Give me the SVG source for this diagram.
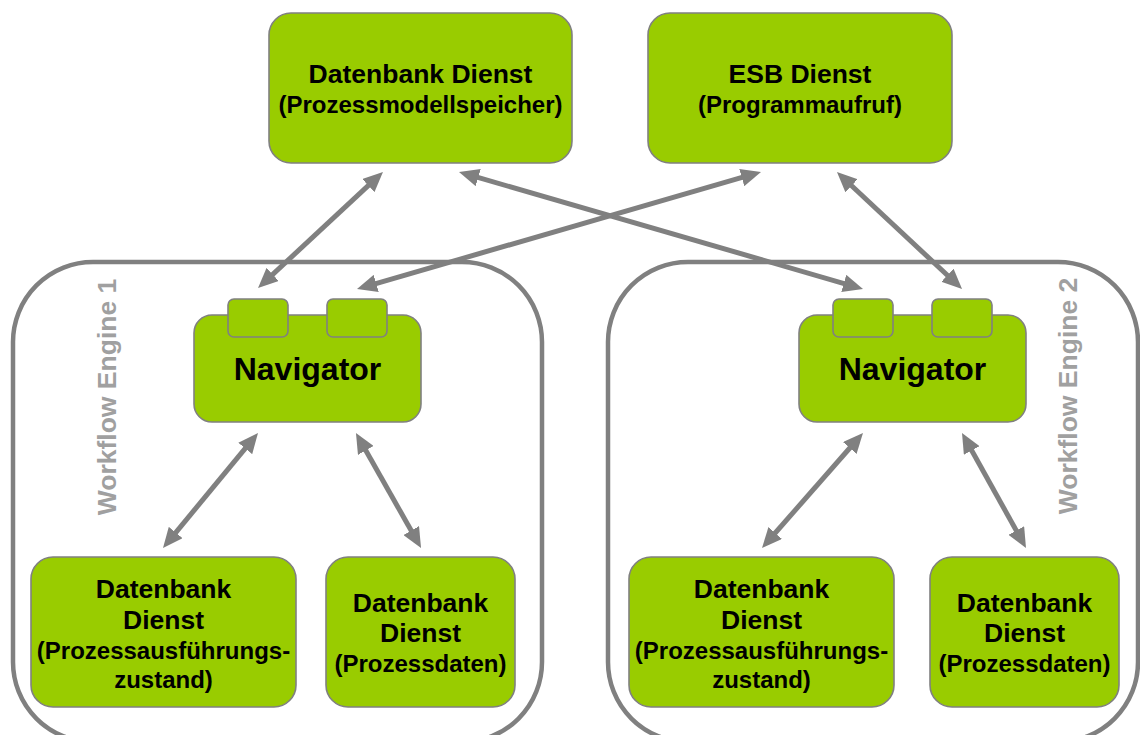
<svg xmlns="http://www.w3.org/2000/svg" width="1140" height="735" viewBox="0 0 1140 735">
  <style>
    .box { fill: #99cc00; stroke: #808080; stroke-width: 1.6; }
    .engine { fill: none; stroke: #808080; stroke-width: 4.5; }
    .link { fill: none; stroke: #808080; stroke-width: 5; marker-start: url(#head); marker-end: url(#head); }
    .t { font-family: "Liberation Sans", Arial, sans-serif; font-weight: bold; fill: #000; text-anchor: middle; }
    .big { font-size: 26.5px; }
    .sub { font-size: 24px; }
    .nav { font-size: 32px; }
    .lbl { font-family: "Liberation Sans", Arial, sans-serif; font-weight: bold; font-size: 26.5px; fill: #a0a0a0; text-anchor: middle; }
  </style>
  <defs>
    <marker id="head" viewBox="0 0 20 18" refX="12" refY="9" markerWidth="20" markerHeight="18" markerUnits="userSpaceOnUse" orient="auto-start-reverse">
      <path d="M0,0 L20,9 L0,18 z" fill="#808080"/>
    </marker>
  </defs>

  <!-- workflow engine containers -->
  <g id="engine1">
    <rect class="engine" x="13" y="262" width="529" height="480" rx="80" ry="80"/>
    <text class="lbl" transform="translate(116,397) rotate(-90)">Workflow Engine 1</text>
  </g>
  <g id="engine2">
    <rect class="engine" x="608" y="262" width="530" height="480" rx="80" ry="80"/>
    <text class="lbl" transform="translate(1077,396) rotate(-90)">Workflow Engine 2</text>
  </g>

  <!-- connectors -->
  <g id="connectors">
    <line class="link" x1="263.9" y1="282.6" x2="377.1" y2="177.4"/>
    <line class="link" x1="364.7" y1="286.8" x2="753.3" y2="174.2"/>
    <line class="link" x1="466.7" y1="174.2" x2="855.3" y2="286.8"/>
    <line class="link" x1="842.8" y1="177.5" x2="956.2" y2="283.5"/>
    <line class="link" x1="252.9" y1="439.2" x2="168.1" y2="541.8"/>
    <line class="link" x1="359.9" y1="440.0" x2="417.1" y2="541.0"/>
    <line class="link" x1="857.7" y1="439.0" x2="767.3" y2="542.0"/>
    <line class="link" x1="965.9" y1="440.0" x2="1022.1" y2="541.0"/>
  </g>

  <!-- shared services -->
  <g id="db-model-store">
    <rect class="box" x="269" y="13" width="303" height="150" rx="22" ry="22"/>
    <text class="t big" x="420.5" y="83">Datenbank Dienst</text>
    <text class="t sub" x="420.5" y="113">(Prozessmodellspeicher)</text>
  </g>
  <g id="esb">
    <rect class="box" x="648" y="13" width="304" height="150" rx="22" ry="22"/>
    <text class="t big" x="800" y="83">ESB Dienst</text>
    <text class="t sub" x="800" y="113">(Programmaufruf)</text>
  </g>

  <!-- navigators -->
  <g id="navigator1">
    <rect class="box" x="194" y="315" width="227" height="107" rx="18" ry="18"/>
    <rect class="box" x="228" y="299" width="60" height="38" rx="6" ry="6"/>
    <rect class="box" x="327" y="299" width="60" height="38" rx="6" ry="6"/>
    <text class="t nav" x="307.5" y="380">Navigator</text>
  </g>
  <g id="navigator2">
    <rect class="box" x="799" y="315" width="227" height="107" rx="18" ry="18"/>
    <rect class="box" x="833" y="299" width="60" height="38" rx="6" ry="6"/>
    <rect class="box" x="932" y="299" width="60" height="38" rx="6" ry="6"/>
    <text class="t nav" x="912.5" y="380">Navigator</text>
  </g>

  <!-- engine 1 stores -->
  <g id="exec-state1">
    <rect class="box" x="31" y="557" width="265" height="150" rx="22" ry="22"/>
    <text class="t big" x="163.5" y="598">Datenbank</text>
    <text class="t big" x="163.5" y="629">Dienst</text>
    <text class="t sub" x="163.5" y="659">(Prozessausführungs-</text>
    <text class="t sub" x="163.5" y="688">zustand)</text>
  </g>
  <g id="proc-data1">
    <rect class="box" x="326" y="557" width="189" height="150" rx="22" ry="22"/>
    <text class="t big" x="420.5" y="612">Datenbank</text>
    <text class="t big" x="420.5" y="642">Dienst</text>
    <text class="t sub" x="420.5" y="672">(Prozessdaten)</text>
  </g>

  <!-- engine 2 stores -->
  <g id="exec-state2">
    <rect class="box" x="629" y="557" width="265" height="150" rx="22" ry="22"/>
    <text class="t big" x="761.5" y="598">Datenbank</text>
    <text class="t big" x="761.5" y="629">Dienst</text>
    <text class="t sub" x="761.5" y="659">(Prozessausführungs-</text>
    <text class="t sub" x="761.5" y="688">zustand)</text>
  </g>
  <g id="proc-data2">
    <rect class="box" x="930" y="557" width="189" height="150" rx="22" ry="22"/>
    <text class="t big" x="1024.5" y="612">Datenbank</text>
    <text class="t big" x="1024.5" y="642">Dienst</text>
    <text class="t sub" x="1024.5" y="672">(Prozessdaten)</text>
  </g>
</svg>
